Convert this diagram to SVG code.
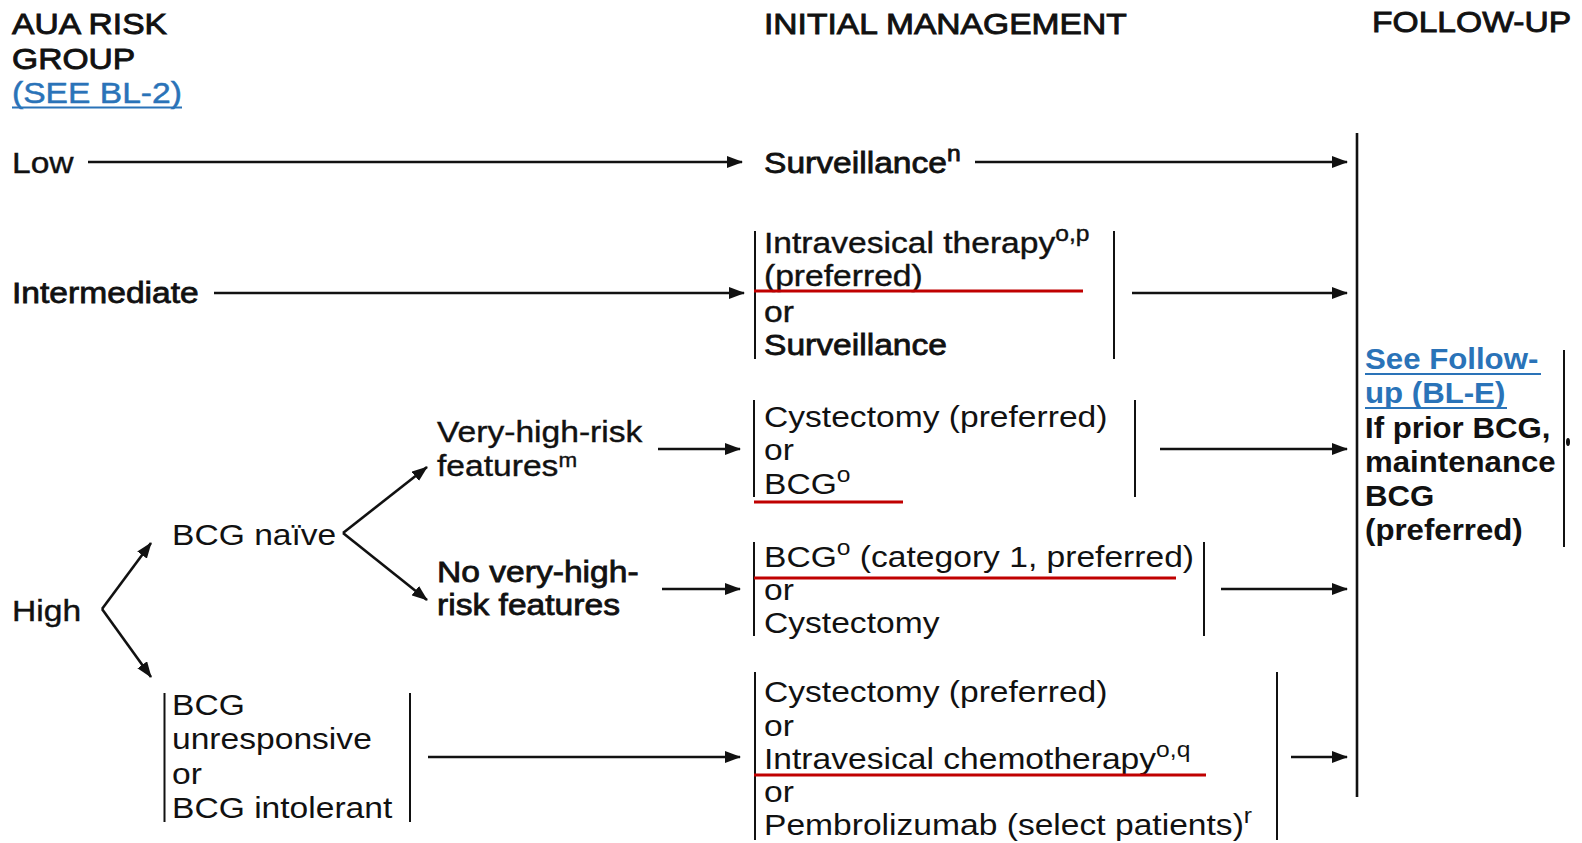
<svg xmlns="http://www.w3.org/2000/svg" width="1582" height="843" viewBox="0 0 1582 843">
<style>
text{font-family:"Liberation Sans",Arial,sans-serif;font-size:30px;fill:#111}
.b{stroke:#111;stroke-width:0.8}
.m{stroke:#111;stroke-width:0.4}
.hd{stroke:#111;stroke-width:0.9}
.fu{font-weight:bold}
.lnk{fill:#2a73b8;stroke:none}
.sup{font-size:22px}
.bar{stroke:#111;stroke-width:2;fill:none}
.red{stroke:#c00000;stroke-width:3}
.ul{stroke:#2a73b8;stroke-width:2}
.con line{stroke:#111;stroke-width:2.6;fill:none}
</style>
<defs>
<marker id="ah" markerUnits="userSpaceOnUse" markerWidth="16" markerHeight="12" refX="15" refY="6" orient="auto">
<path d="M0,0 L16,6 L0,12 z" fill="#111"/>
</marker>
</defs>
<rect width="1582" height="843" fill="#fff"/>

<g id="headers">
<text transform="translate(12,34) scale(1.12,1)" class="hd">AUA RISK</text>
<text transform="translate(12,69) scale(1.12,1)" class="hd">GROUP</text>
<text transform="translate(12,103) scale(1.12,1)" class="lnk" style="stroke:#2a73b8;stroke-width:0.5">(SEE BL-2)</text>
<line x1="12" y1="107.5" x2="182" y2="107.5" class="ul"/>
<text transform="translate(764,34) scale(1.12,1)" class="hd">INITIAL MANAGEMENT</text>
<text transform="translate(1372,32) scale(1.12,1)" class="hd">FOLLOW-UP</text>
</g>

<g id="node-low"><text transform="translate(12,173) scale(1.12,1)" class="m">Low</text></g>
<g id="node-low-surveillance"><text transform="translate(764,173) scale(1.12,1)" class="b">Surveillance<tspan class="sup" dy="-12">n</tspan></text></g>

<g id="node-intermediate"><text transform="translate(12,303) scale(1.12,1)" class="b">Intermediate</text></g>
<g id="node-intermediate-mgmt">
<line x1="755" y1="231" x2="755" y2="359" class="bar"/>
<line x1="1114" y1="231" x2="1114" y2="359" class="bar"/>
<text transform="translate(764,253) scale(1.12,1)" class="m">Intravesical therapy<tspan class="sup" dy="-12">o,p</tspan></text>
<text transform="translate(764,286) scale(1.12,1)" class="m">(preferred)</text>
<line x1="754" y1="291" x2="1083" y2="291" class="red"/>
<text transform="translate(764,322) scale(1.12,1)" class="m">or</text>
<text transform="translate(764,355) scale(1.12,1)" class="b">Surveillance</text>
</g>

<g id="node-high"><text transform="translate(12,621) scale(1.12,1)" class="m">High</text></g>
<g id="node-bcg-naive"><text transform="translate(172,545) scale(1.12,1)">BCG naïve</text></g>

<g id="node-very-high">
<text transform="translate(437,442) scale(1.12,1)" class="m">Very-high-risk</text>
<text transform="translate(437,476) scale(1.12,1)" class="m">features<tspan style="font-size:20px" dy="-9">m</tspan></text>
</g>
<g id="node-very-high-mgmt">
<line x1="754" y1="400" x2="754" y2="497" class="bar"/>
<line x1="1135" y1="400" x2="1135" y2="497" class="bar"/>
<text transform="translate(764,427) scale(1.12,1)">Cystectomy (preferred)</text>
<text transform="translate(764,460) scale(1.12,1)">or</text>
<text transform="translate(764,494) scale(1.12,1)">BCG<tspan class="sup" dy="-12">o</tspan></text>
<line x1="754" y1="502" x2="903" y2="502" class="red"/>
</g>

<g id="node-no-very-high">
<text transform="translate(437,582) scale(1.12,1)" class="b">No very-high-</text>
<text transform="translate(437,615) scale(1.12,1)" class="b">risk features</text>
</g>
<g id="node-no-very-high-mgmt">
<line x1="754" y1="542" x2="754" y2="636" class="bar"/>
<line x1="1204" y1="542" x2="1204" y2="636" class="bar"/>
<text transform="translate(764,567) scale(1.12,1)">BCG<tspan class="sup" dy="-12">o</tspan><tspan dy="12"> (category 1, preferred)</tspan></text>
<line x1="754" y1="578" x2="1176" y2="578" class="red"/>
<text transform="translate(764,600) scale(1.12,1)">or</text>
<text transform="translate(764,633) scale(1.12,1)">Cystectomy</text>
</g>

<g id="node-bcg-unresponsive">
<line x1="164.5" y1="693" x2="164.5" y2="822" class="bar"/>
<line x1="410" y1="693" x2="410" y2="822" class="bar"/>
<text transform="translate(172,715) scale(1.12,1)">BCG</text>
<text transform="translate(172,749) scale(1.12,1)">unresponsive</text>
<text transform="translate(172,784) scale(1.12,1)">or</text>
<text transform="translate(172,818) scale(1.12,1)">BCG intolerant</text>
</g>

<g id="node-bcg-unresponsive-mgmt">
<line x1="755" y1="672" x2="755" y2="840" class="bar"/>
<line x1="1277" y1="672" x2="1277" y2="840" class="bar"/>
<text transform="translate(764,702) scale(1.12,1)">Cystectomy (preferred)</text>
<text transform="translate(764,736) scale(1.12,1)">or</text>
<text transform="translate(764,769) scale(1.12,1)">Intravesical chemotherapy<tspan class="sup" dy="-12">o,q</tspan></text>
<line x1="754" y1="775" x2="1206" y2="775" class="red"/>
<text transform="translate(764,802) scale(1.12,1)">or</text>
<text transform="translate(764,835) scale(1.12,1)">Pembrolizumab (select patients)<tspan class="sup" dy="-12">r</tspan></text>
</g>

<g id="node-follow-up">
<line x1="1564" y1="350" x2="1564" y2="547" class="bar"/>
<text transform="translate(1365,369) scale(1.04,1)" class="fu lnk">See Follow-</text>
<line x1="1365" y1="374" x2="1541" y2="374" class="ul"/>
<text transform="translate(1365,403) scale(1.04,1)" class="fu lnk">up (BL-E)</text>
<line x1="1365" y1="408" x2="1507" y2="408" class="ul"/>
<text transform="translate(1365,438) scale(1.04,1)" class="fu">If prior BCG,</text>
<text transform="translate(1365,472) scale(1.04,1)" class="fu">maintenance</text>
<text transform="translate(1365,506) scale(1.04,1)" class="fu">BCG</text>
<text transform="translate(1365,540) scale(1.04,1)" class="fu">(preferred)</text>
<ellipse cx="1568" cy="442" rx="2" ry="4" fill="#111"/>
</g>

<g id="connectors" class="con">
<line x1="1357" y1="133" x2="1357" y2="797"/>
<line x1="88" y1="162" x2="742" y2="162" marker-end="url(#ah)"/>
<line x1="975" y1="162" x2="1347" y2="162" marker-end="url(#ah)"/>
<line x1="214" y1="293" x2="744" y2="293" marker-end="url(#ah)"/>
<line x1="1132" y1="293" x2="1347" y2="293" marker-end="url(#ah)"/>
<line x1="658" y1="449" x2="740" y2="449" marker-end="url(#ah)"/>
<line x1="1160" y1="449" x2="1347" y2="449" marker-end="url(#ah)"/>
<line x1="662" y1="589" x2="740" y2="589" marker-end="url(#ah)"/>
<line x1="1221" y1="589" x2="1347" y2="589" marker-end="url(#ah)"/>
<line x1="428" y1="757" x2="740" y2="757" marker-end="url(#ah)"/>
<line x1="1291" y1="757" x2="1347" y2="757" marker-end="url(#ah)"/>
<line x1="102" y1="609" x2="151" y2="543" marker-end="url(#ah)"/>
<line x1="102" y1="609" x2="151" y2="677" marker-end="url(#ah)"/>
<line x1="343" y1="533" x2="427" y2="467" marker-end="url(#ah)"/>
<line x1="343" y1="533" x2="427" y2="600" marker-end="url(#ah)"/>
</g>
</svg>
